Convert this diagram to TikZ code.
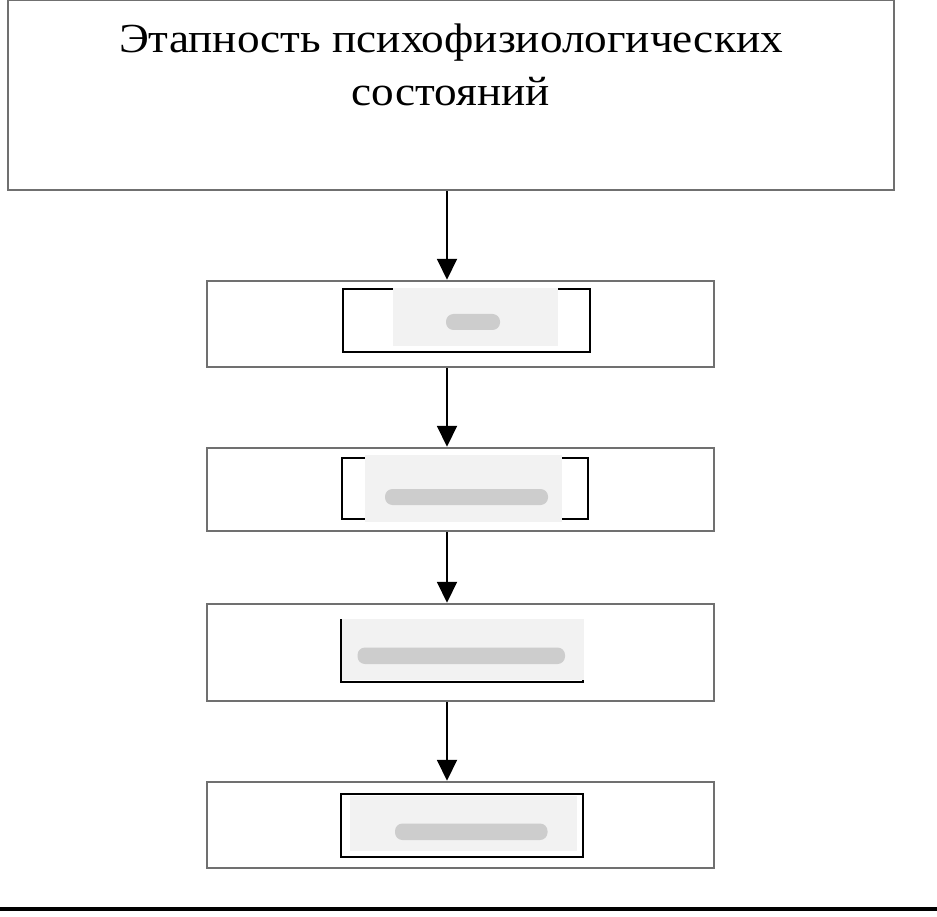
\documentclass[tikz,border=0pt]{standalone}
\usepackage{fontspec}
\setmainfont{Liberation Serif}
\newfontfamily\titlefont[FakeStretch=1.095]{Liberation Serif}
\usetikzlibrary{arrows.meta,positioning}
\definecolor{framegray}{RGB}{112,112,112}
\definecolor{blurbg}{RGB}{242,242,242}
\definecolor{blurtxt}{RGB}{205,205,205}

\begin{document}
\begin{tikzpicture}[
  outer/.style={draw=framegray, line width=1.4pt, minimum width=10.14cm},
  inner/.style={draw=black, line width=0.8pt},
  arr/.style={-{Triangle[width=0.4cm, length=0.42cm]}, line width=1.1pt, black},
  blur/.style={fill=blurbg},
  smudge/.style={fill=blurtxt, rounded corners=0.15cm},
]
\useasboundingbox (0,0) rectangle (18.74,-18.34);
\node[outer, minimum width=17.72cm, minimum height=3.8cm] (title) at (9.02,-1.9) {};
\node[font=\titlefont\fontsize{23.5}{30.2}\selectfont, align=center, below=0.38cm of title.north] (ttext)
  {Этапность психофизиологических\\ состояний};
\node[outer, minimum height=1.72cm] (s1) at (9.21,-6.48) {};
\node[outer, minimum height=1.66cm] (s2) at (9.21,-9.79) {};
\node[outer, minimum height=1.94cm] (s3) at (9.21,-13.05) {};
\node[outer, minimum height=1.72cm] (s4) at (9.21,-16.5) {};
\node[inner, minimum width=4.94cm, minimum height=1.26cm] (in1) at (9.33,-6.41) {};
\node[inner, minimum width=4.92cm, minimum height=1.22cm] (in2) at (9.30,-9.77) {};
\node[inner, minimum width=4.84cm, minimum height=1.24cm] (in3) at (9.24,-13.02) {};
\node[inner, minimum width=4.84cm, minimum height=1.26cm] (in4) at (9.24,-16.51) {};
% blurred labels
\fill[blur] (7.86,-5.76) rectangle (11.16,-6.92);
\fill[blur] (7.30,-9.10) rectangle (11.24,-10.44);
\fill[blur] (6.84,-12.38) rectangle (11.68,-13.60);
\fill[blur] (7.00,-15.92) rectangle (11.54,-17.02);
\fill[smudge] (8.92,-6.28) rectangle (10.00,-6.60);
\fill[smudge] (7.70,-9.78) rectangle (10.96,-10.10);
\fill[smudge] (7.15,-12.95) rectangle (11.30,-13.28);
\fill[smudge] (7.90,-16.47) rectangle (10.95,-16.80);
% arrows
\coordinate (ax) at (8.94,0);
\draw[arr] (title.south -| ax) -- (s1.north -| ax);
\draw[arr] (s1.south -| ax) -- (s2.north -| ax);
\draw[arr] (s2.south -| ax) -- (s3.north -| ax);
\draw[arr] (s3.south -| ax) -- (s4.north -| ax);
\draw[line width=2pt] (0,-18.18) -- (18.74,-18.18);
\end{tikzpicture}
\end{document}
